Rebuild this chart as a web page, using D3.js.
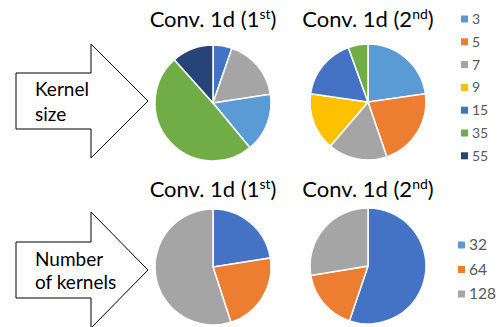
<!DOCTYPE html>
<html>
<head>
<meta charset="utf-8">
<script src="https://cdn.jsdelivr.net/npm/d3@7"></script>
<style>
body{margin:0;background:#fff;}
text{font-family:Lato,"Open Sans",sans-serif;}
</style>
</head>
<body>
<svg width="498" height="327"></svg>
<script>
// kernel size categories and their colours (legend order)
const sizeKeys = ['3','5','7','9','15','35','55'];
const sizeColors = ['#5B9BD5','#ED7D31','#A5A5A5','#FFC000','#4472C4','#70AD47','#264478'];
// number of kernels
const numKeys = ['32','64','128'];
const numColors = ['#4472C4','#ED7D31','#A5A5A5'];
const numLegendColors = ['#5B9BD5','#ED7D31','#A5A5A5'];

// slices in drawing order (clockwise from 12 o'clock), percent
const size1stKeys = ['15','7','3','35','55'];
const size1stVals = [5.3,17.3,16.4,49.4,11.6];
const size2ndKeys = ['3','5','7','9','15','35'];
const size2ndVals = [22.7,22.0,16.5,16.0,17.2,5.5];
const num1stKeys = ['32','64','128'];
const num1stVals = [22.5,22.5,55.0];
const num2ndKeys = ['32','64','128'];
const num2ndVals = [55.2,17.2,27.6];

const svg = d3.select('svg');

const sizeColor = d3.scaleOrdinal().domain(sizeKeys).range(sizeColors);
const numColor = d3.scaleOrdinal().domain(numKeys).range(numColors);
const numLegendColor = d3.scaleOrdinal().domain(numKeys).range(numLegendColors);

const pie = d3.pie().sort(null).value(d => d.v);
const arc = d3.arc().innerRadius(0).outerRadius(58);

function drawPie(cx, cy, keys, vals, color){
    const data = keys.map((k,i) => ({k:k, v:vals[i]}));
    const g = svg.append('g').attr('transform',`translate(${cx},${cy})`);
    g.selectAll('path').data(pie(data))
        .enter().append('path')
            .attr('d', arc)
            .attr('fill', d => color(d.data.k))
            .attr('stroke','#fff')
            .attr('stroke-width',1.5);
}

function title(cx, y, num, sup){
    const t = svg.append('text')
        .attr('x',cx).attr('y',y)
        .attr('text-anchor','middle')
        .attr('font-size',22)
        .attr('fill','#000');
    t.append('tspan').text(`Conv. 1d (${num}`);
    t.append('tspan').text(sup).attr('font-size',14).attr('dy',-8);
    t.append('tspan').text(')').attr('dy',8);
}

function legend(x, y0, step, keys, color, fs){
    const g = svg.append('g');
    keys.forEach((k,i) => {
        g.append('rect')
            .attr('x',x).attr('y',y0 + i*step - 3.5)
            .attr('width',7).attr('height',7)
            .attr('fill',color(k));
        g.append('text')
            .attr('x',x+11).attr('y',y0 + i*step + 5)
            .attr('font-size',fs)
            .attr('fill','#595959')
            .text(k);
    });
}

function arrow(top, bottom, headTop, headBot, tipY, lines){
    const pts = [[16,top],[91,top],[91,headTop],[148,tipY],[91,headBot],[91,bottom],[16,bottom]];
    svg.append('path')
        .attr('d', d3.line()(pts) + 'Z')
        .attr('fill','#fff')
        .attr('stroke','#000')
        .attr('stroke-width',1);
    lines.forEach(l => {
        svg.append('text')
            .attr('x',35).attr('y',l[1])
            .attr('font-size',19)
            .attr('fill','#000')
            .text(l[0]);
    });
}

title(213, 27, 1, 'st');
title(368, 27, 2, 'nd');
title(213, 197, 1, 'st');
title(368, 197, 2, 'nd');

drawPie(213, 103, size1stKeys, size1stVals, sizeColor);
drawPie(368, 102, size2ndKeys, size2ndVals, sizeColor);
drawPie(213, 267, num1stKeys, num1stVals, numColor);
drawPie(368, 266, num2ndKeys, num2ndVals, numColor);

legend(461, 19, 22.8, sizeKeys, sizeColor, 14);
legend(458, 245, 24.5, numKeys, numLegendColor, 15.5);

arrow(73, 129, 44, 158, 101, [['Kernel',96],['size',121]]);
arrow(242, 298, 212, 328, 270, [['Number',266],['of kernels',289]]);
</script>
</body>
</html>
